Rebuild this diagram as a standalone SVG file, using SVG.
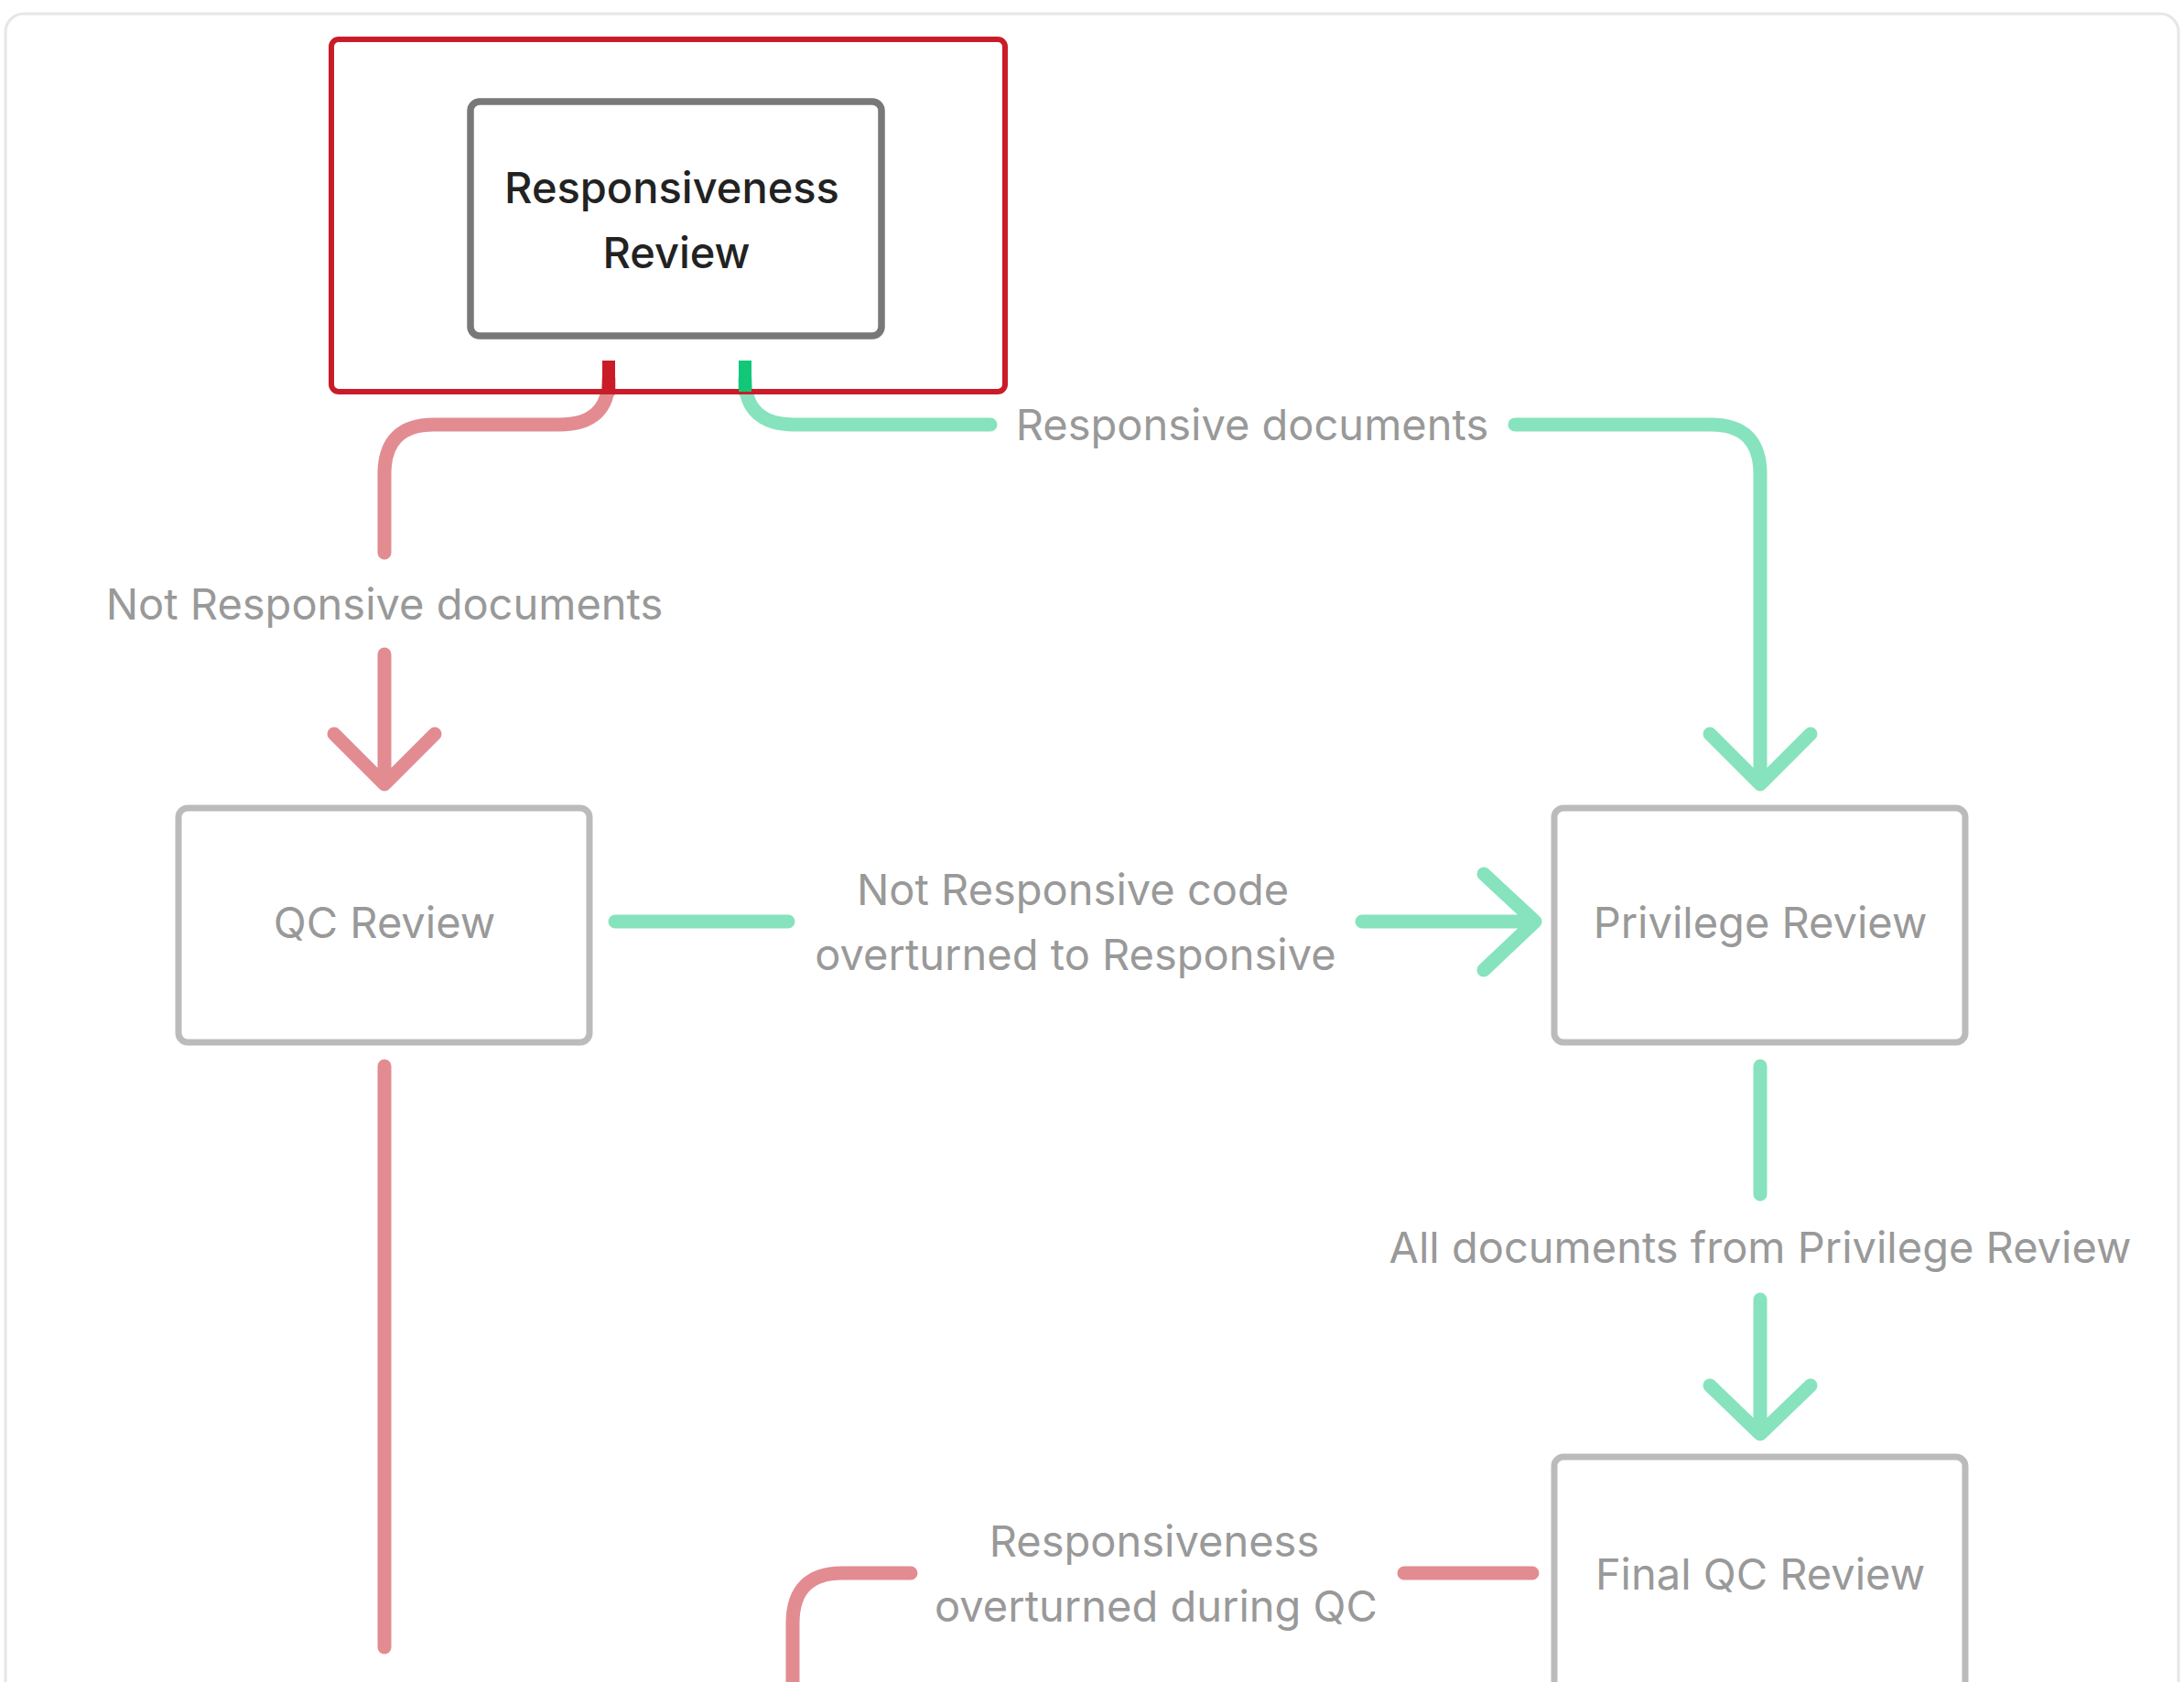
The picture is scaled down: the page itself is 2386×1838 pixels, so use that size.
<svg xmlns="http://www.w3.org/2000/svg" width="2386" height="1838" viewBox="0 0 2386 1838">
<style>
text{font-family:Inter,"Liberation Sans",sans-serif;font-size:47px;text-anchor:middle;fill:#999}
.box{fill:#fff;stroke:#bbb;stroke-width:7}
.r{fill:none;stroke:#e28c92;stroke-width:15;stroke-linecap:round;stroke-linejoin:round}
.g{fill:none;stroke:#86e3bd;stroke-width:15;stroke-linecap:round;stroke-linejoin:round}
</style>
<rect x="6" y="15" width="2374" height="1900" rx="20" fill="#fff" stroke="#e6e6e6" stroke-width="3"/>
<g id="connectors">
<path class="r" d="M665,428 L665,414 Q665,464 611,464 L474,464 Q420,464 420,518 L420,604"/>
<path class="r" d="M420,715 L420,857 M365,802 L420,857 L475,802"/>
<path class="g" d="M814,428 L814,414 Q814,464 868,464 L1082,464"/>
<path class="g" d="M1655,464 L1869,464 Q1923,464 1923,518 L1923,857 M1868,802 L1923,857 L1978,802"/>
<path class="g" d="M672,1007 L861,1007 M1488,1007 L1677,1007 M1621,955 L1677,1007 L1621,1060"/>
<path class="g" d="M1923,1165 L1923,1305 M1923,1420 L1923,1567 M1868,1514 L1923,1567 L1978,1514"/>
<path class="r" d="M420,1165 L420,1800"/>
<path class="r" d="M1674,1719 L1534,1719 M995,1719 L920,1719 Q866,1719 866,1774 L866,1860"/>
<text x="420" y="677">Not Responsive documents</text>
<text x="1368" y="481">Responsive documents</text>
<text x="1172" y="989">Not Responsive code</text>
<text x="1175" y="1060">overturned to Responsive</text>
<text x="1923" y="1380">All documents from Privilege Review</text>
<text x="1261" y="1701">Responsiveness</text>
<text x="1263" y="1772">overturned during QC</text>
</g>
<g id="responsiveness-review">
<rect x="362" y="43" width="736" height="385" rx="8" fill="none" stroke="#c91c28" stroke-width="6"/>
<rect x="514" y="111" width="449" height="256" rx="10" fill="#fff" stroke="#787878" stroke-width="7.5"/>
<text x="734" y="222" style="fill:#222;font-weight:500">Responsiveness</text>
<text x="739" y="293" style="fill:#222;font-weight:500">Review</text>
<rect x="658" y="394" width="14" height="34" fill="#c91c28"/>
<rect x="807" y="394" width="14" height="34" fill="#10c878"/>
</g>
<g id="qc-review"><rect class="box" x="195" y="883" width="449" height="256" rx="10"/><text x="420" y="1025">QC Review</text></g>
<g id="privilege-review"><rect class="box" x="1698" y="883" width="449" height="256" rx="10"/><text x="1923" y="1025">Privilege Review</text></g>
<g id="final-qc-review"><rect class="box" x="1698" y="1592" width="449" height="300" rx="10"/><text x="1923" y="1737">Final QC Review</text></g>
</svg>
